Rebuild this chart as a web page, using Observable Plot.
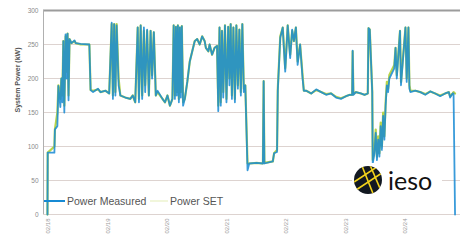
<!DOCTYPE html>
<html>
<head>
<meta charset="utf-8">
<script src="https://cdn.jsdelivr.net/npm/d3@7"></script>
<script src="https://cdn.jsdelivr.net/npm/@observablehq/plot@0.6"></script>
<style>
  body { margin: 0; background: #fff; font-family: "Liberation Sans", Arial, sans-serif; }
  #wrap { position: relative; width: 463px; height: 240px; }
  .leg { position: absolute; font-size: 10.5px; line-height: 12px; color: #555; white-space: nowrap; }
</style>
</head>
<body>
<div id="wrap"></div>
<script>
// ---- data (hours from first tick) ----
const hours = [
  -0.4, -0.3, 2.4, 2.6, 3.6, 4.0, 4.8, 5.2, 5.6, 6.0, 6.4, 6.9, 7.3, 7.7, 8.1, 8.5, 9.3, 10.5, 11, 13, 16.5,
  17, 18, 20, 21, 23, 24.5, 25.5, 26, 26.5, 27, 27.5, 28.3, 29, 31, 33, 34, 35,
  36, 36.5, 37.2, 37.8, 38.5, 39, 39.8, 40.5, 41.2, 41.8, 42.5, 43.3, 44, 46, 47, 48, 49, 50,
  50.5, 51, 51.4, 51.8, 52.2, 52.6, 53, 53.4, 53.8, 54.3, 55, 56, 57, 58, 59, 60, 61, 62, 63, 63.5,
  64.5, 65, 66, 67, 68, 68.5, 69, 69.5, 70, 70.5, 71.2, 71.8, 72.5, 73, 73.5, 74, 74.6, 75.2, 75.8, 76.4, 77, 77.6, 78.2, 78.8, 79.4,
  80.3, 81, 84, 86.5, 86.8, 87.1, 90.5, 91, 92.2, 92.5,
  93.5, 94.5, 95.5, 96.5, 97.5, 98.3, 99, 99.8, 100.5, 101.5, 102.5, 103,
  104, 106, 108, 110, 112, 114, 116, 118, 120, 121.5, 122.5, 122.7, 123, 124, 126, 127.5, 128.8, 129.1, 129.6, 130.6, 130.8,
  131.5, 132, 132.5, 133, 133.5, 134, 134.5, 135, 135.5, 136, 136.5, 137, 137.5, 139.5, 140, 140.5, 141.8, 142.2, 144, 144.5, 145.2, 145.6, 146,
  148, 150, 152, 154, 156, 158, 160, 161.5, 162, 163, 163.4, 164
];
const measured = [
  0, 91, 91, 125, 130, 189, 158, 200, 165, 255, 150, 265, 200, 266, 168, 258, 252, 256, 252, 251, 250,
  183, 180, 185, 180, 182, 178, 282, 170, 280, 175, 278, 190, 175, 172, 170, 175, 165,
  275, 165, 278, 170, 275, 180, 272, 175, 270, 200, 268, 175, 182, 170, 165, 175, 160, 170,
  278, 170, 276, 175, 278, 165, 275, 172, 277, 160, 170, 195, 225, 240, 255, 258, 250, 262, 255, 245,
  240, 250, 235, 245, 248, 152, 275, 160, 270, 172, 278, 165, 276, 190, 280, 170, 275, 165, 278, 185, 272, 175, 280, 180, 190,
  65, 75, 76, 75, 196, 75, 78, 90, 92, 182,
  260, 275, 210, 278, 230, 272, 255, 275, 220, 250, 200, 182,
  182, 178, 184, 180, 176, 178, 172, 170, 174, 176, 176, 241, 176, 180, 178, 176, 178, 274, 272, 180, 75,
  90, 120, 80, 110, 85, 130, 95, 145, 110, 160, 190, 180, 200, 215, 245, 200, 270, 190, 275, 195, 275, 185, 180,
  182, 180, 176, 181, 178, 174, 178, 180, 172, 178, 178, 0
];
const powerSet = [
  0, 91, 100, 125, 150, 190, 170, 200, 175, 255, 160, 262, 210, 266, 175, 258, 252, 255, 252, 250, 250,
  183, 182, 184, 180, 182, 178, 280, 175, 280, 180, 280, 200, 175, 172, 170, 175, 165,
  275, 170, 278, 175, 270, 190, 270, 175, 270, 205, 268, 175, 180, 170, 165, 175, 160, 170,
  278, 175, 276, 180, 278, 170, 275, 180, 277, 165, 170, 195, 225, 240, 255, 258, 250, 262, 255, 245,
  240, 250, 235, 245, 248, 160, 275, 165, 270, 180, 278, 170, 276, 200, 280, 175, 275, 170, 278, 190, 272, 180, 280, 185, 190,
  75, 75, 76, 75, 196, 76, 78, 90, 95, 185,
  262, 275, 215, 278, 235, 270, 255, 275, 225, 250, 205, 182,
  182, 178, 183, 180, 177, 178, 173, 171, 174, 176, 176, 240, 177, 180, 178, 176, 178, 274, 272, 182, 80,
  95, 125, 85, 115, 90, 135, 100, 150, 115, 165, 195, 185, 205, 220, 245, 205, 270, 195, 275, 200, 275, 190, 182,
  182, 180, 177, 181, 178, 175, 178, 180, 174, 178, 180, 178
];
const xTickHours = [0, 24, 48, 72, 96, 120, 144];
const xTickLabels = ["02/18", "02/19", "02/20", "02/21", "02/22", "02/23", "02/24"];
const yTicks = [0, 50, 100, 150, 200, 250, 300];
const xDomain = [-2, 166.2];
const yDomain = [0, 300];
const seriesNames = ["Power Measured", "Power SET"];
const seriesColors = ["#168ad4", "#b9d44a"];

const n = Math.min(hours.length, measured.length, powerSet.length);
const rows = d3.range(n).map(i => ({h: hours[i], m: measured[i], s: powerSet[i]}));

const chart = Plot.plot({
  width: 463,
  height: 240,
  marginLeft: 43,
  marginRight: 3,
  marginTop: 10,
  marginBottom: 26,
  style: {background: "#fff", fontFamily: "Liberation Sans, Arial, sans-serif"},
  x: {domain: xDomain},
  y: {domain: yDomain},
  marks: [
    Plot.ruleY(yTicks.slice(0, -1), {stroke: "#ddd3d0", strokeWidth: 1}),
    Plot.ruleY(yTicks.slice(-1), {stroke: "#9c9c9c", strokeWidth: 2}),
    Plot.ruleX([xDomain[0]], {stroke: "#b0b0b0", strokeWidth: 1}),
    Plot.axisY({ticks: yTicks, tickSize: 0, tickPadding: 5, fontSize: 6.5, color: "#8a8a8a", label: null}),
    Plot.axisX({ticks: xTickHours, tickFormat: (d) => xTickLabels[xTickHours.indexOf(d)], tickRotate: -90, tickSize: 0, tickPadding: 4, fontSize: 6, color: "#9a9a9a", label: null}),
    Plot.text(["System Power (kW)"], {frameAnchor: "left", dx: -26, rotate: -90, fontSize: 7, fontWeight: "bold", fill: "#555"}),
    Plot.line(rows, {x: "h", y: "s", stroke: seriesColors[1], strokeWidth: 2.2}),
    Plot.line(rows, {x: "h", y: "m", stroke: seriesColors[0], strokeWidth: 1.8, strokeOpacity: 0.85})
  ]
});

const wrap = document.getElementById("wrap");
wrap.appendChild(chart);

// legend
function legendItem(name, color, left, lineW, alpha) {
  const line = document.createElement("div");
  line.style.cssText = `position:absolute;left:${left}px;top:200px;width:${lineW}px;height:2px;background:${color};opacity:${alpha}`;
  wrap.appendChild(line);
  const t = document.createElement("div");
  t.className = "leg";
  t.style.left = (left + lineW + 2) + "px";
  t.style.top = "195px";
  t.textContent = name;
  wrap.appendChild(t);
}
legendItem(seriesNames[0], seriesColors[0], 44, 21, 1);
legendItem(seriesNames[1], seriesColors[1], 150, 18, 0.2);

// logo
const logo = document.createElement("div");
logo.style.cssText = "position:absolute;left:352px;top:163px;width:90px;height:35px;background:#fff;";
logo.innerHTML = `
<svg width="90" height="35" viewBox="0 0 90 35">
  <defs><clipPath id="cc"><circle cx="16" cy="17" r="14"/></clipPath></defs>
  <circle cx="16" cy="17" r="14" fill="#121821"/>
  <g clip-path="url(#cc)" stroke="#f2d21b" stroke-width="1.6">
    <line x1="4" y1="27" x2="30" y2="10"/>
    <line x1="2" y1="19" x2="28" y2="2"/>
    <line x1="10" y1="3" x2="22" y2="33"/>
    <line x1="18" y1="2" x2="30" y2="30"/>
  </g>
  <text x="36" y="27" font-family="Lato, 'Open Sans', sans-serif" font-size="25" fill="#111">ieso</text>
</svg>`;
wrap.appendChild(logo);
</script>
</body>
</html>
